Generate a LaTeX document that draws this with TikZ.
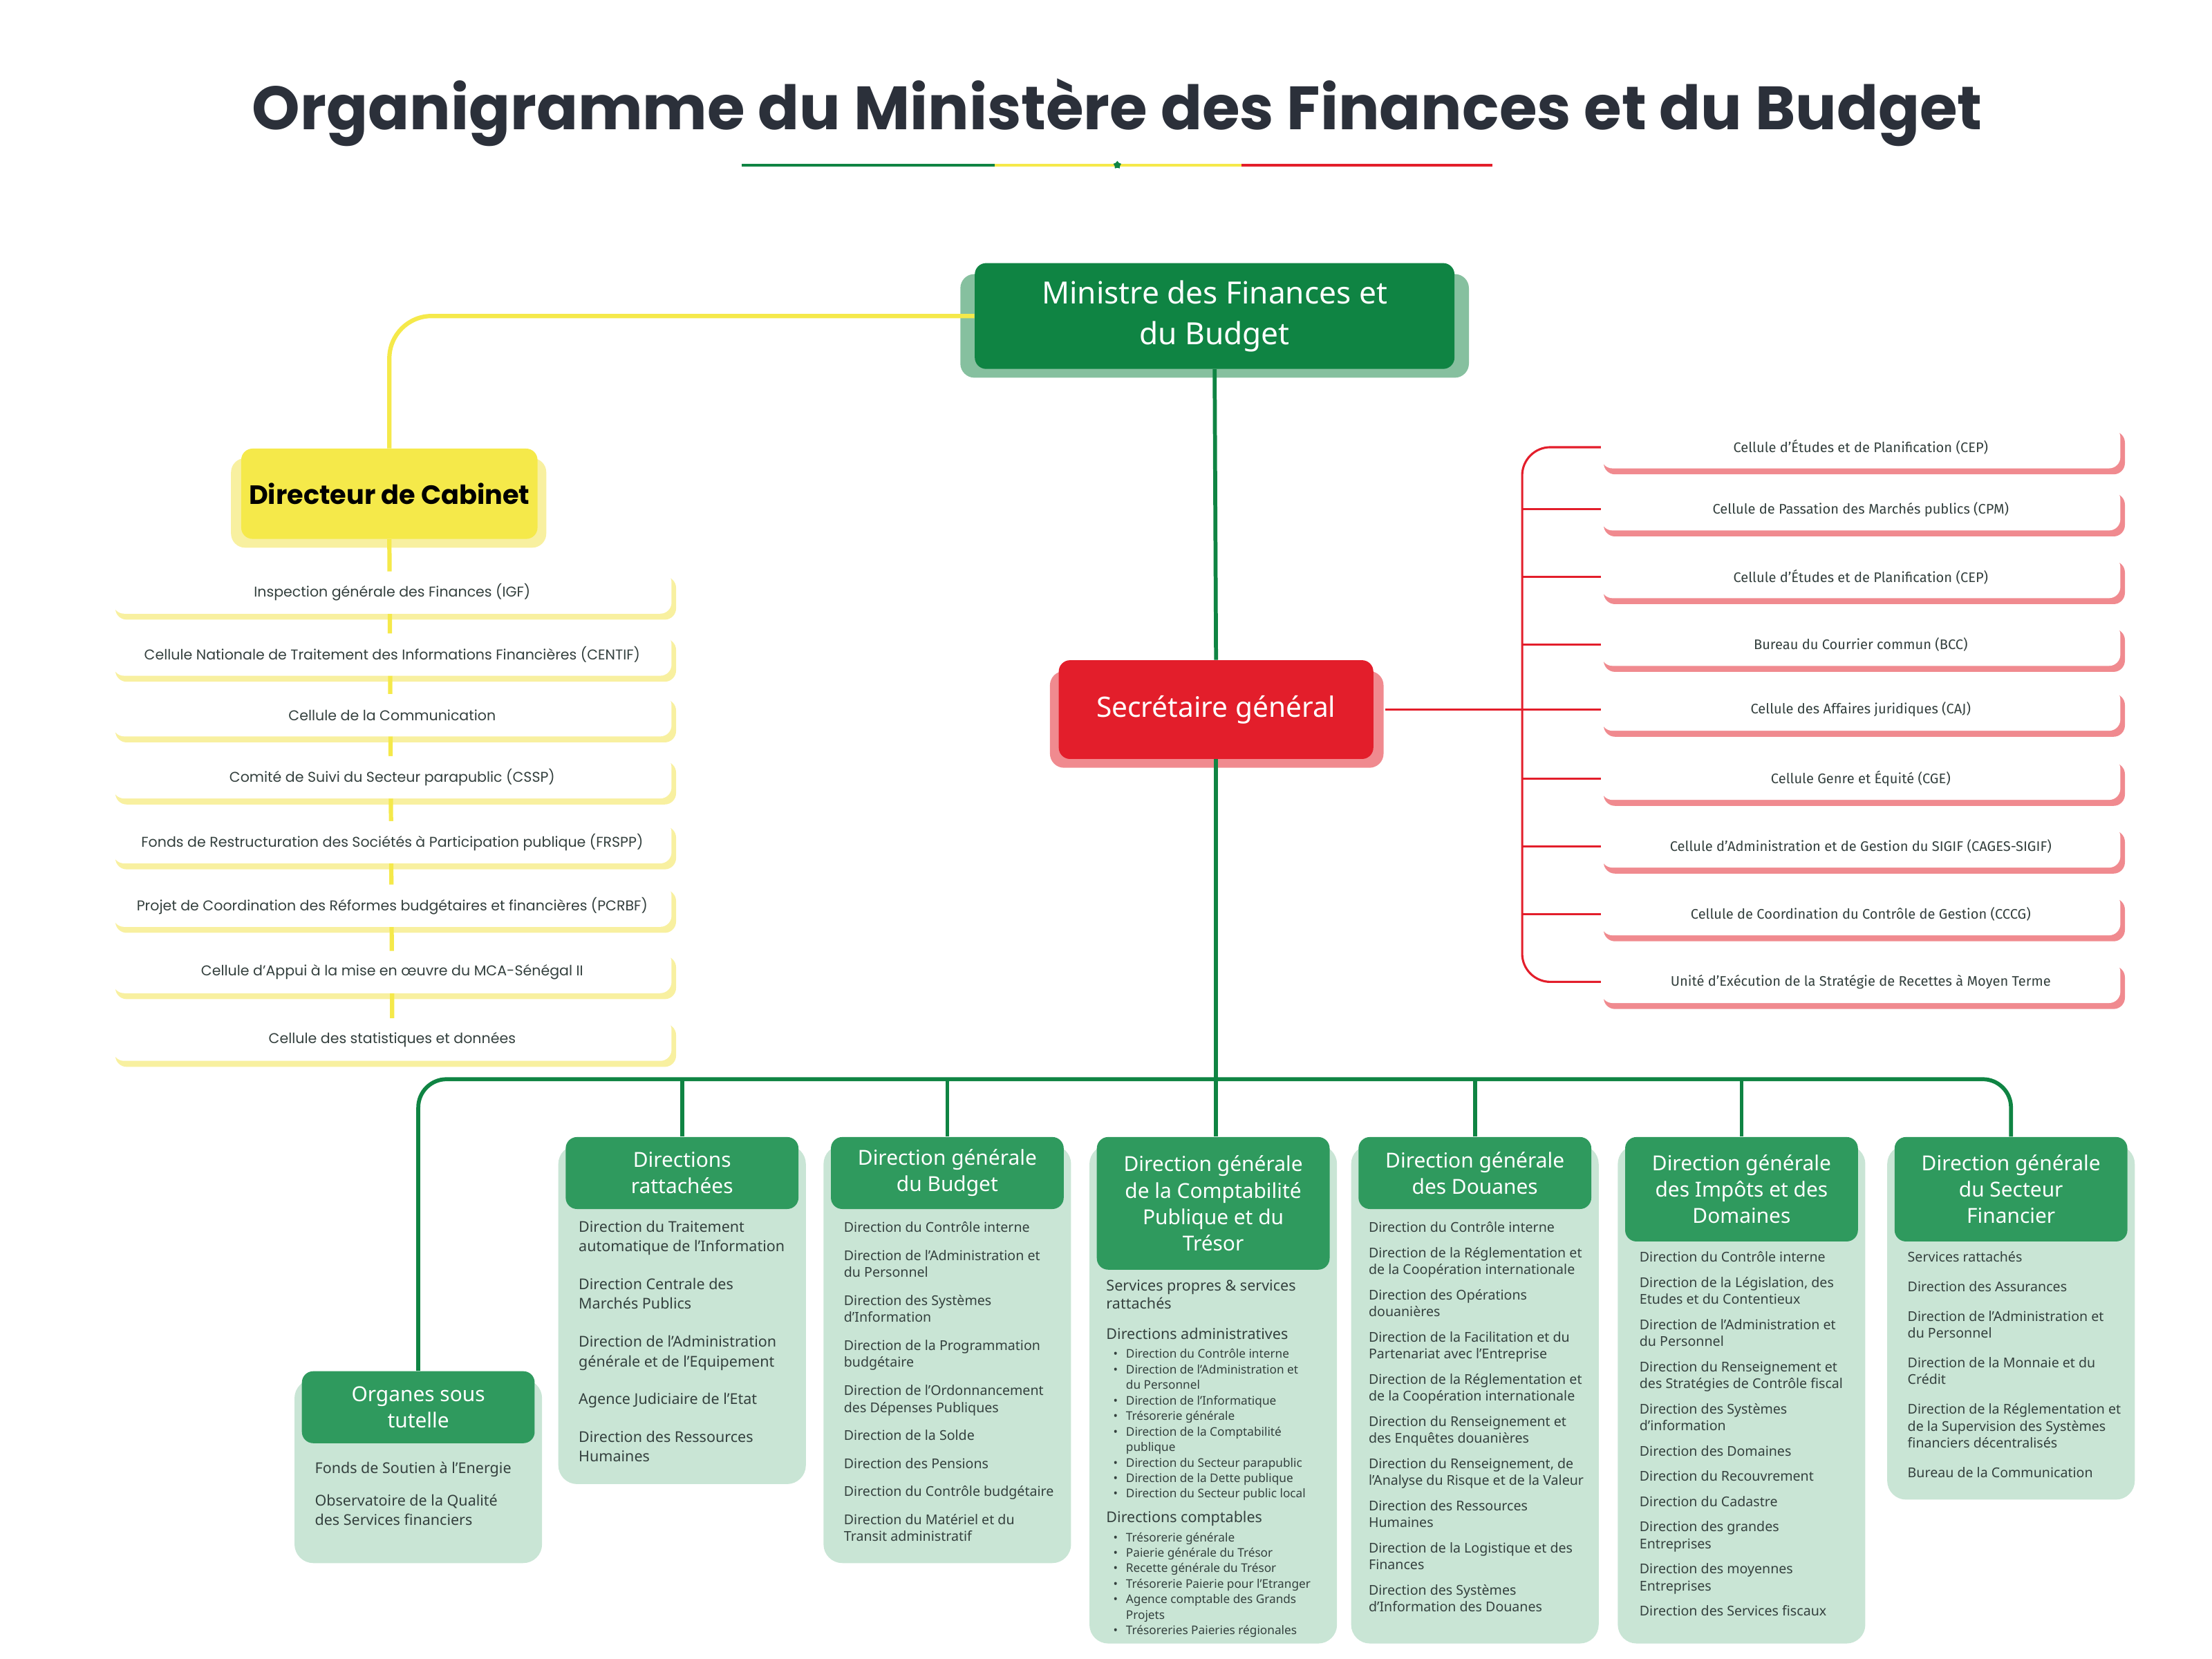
\documentclass[tikz,border=0pt]{standalone}
\usepackage{fontspec}
\setmainfont{Noto Sans}
\newfontfamily\popfont{Poppins}
\newfontfamily\firafont{Fira Sans}
\usetikzlibrary{positioning,backgrounds,shapes.geometric}

\definecolor{vertf}{HTML}{0F8443}
\definecolor{vertmid}{HTML}{2F9A5E}
\definecolor{vertpale}{HTML}{C9E5D5}
\definecolor{ombrev}{HTML}{86C09F}
\definecolor{jaune}{HTML}{F5E94A}
\definecolor{jauneom}{HTML}{F8F0A0}
\definecolor{rouge}{HTML}{E31E2B}
\definecolor{rougeom}{HTML}{F08A8F}
\definecolor{encre}{HTML}{2B303A}
\definecolor{texte}{HTML}{34403E}

\newcommand\puce{\hspace*{4.2pt}\makebox[7.7pt][l]{\textbullet}}
\newcommand\suite{\hspace*{11.9pt}}

\tikzset{
  boite/.style={rounded corners=0.24cm, inner sep=0pt, align=center},
  entete/.style={boite, fill=vertmid, text=white, minimum width=4.95cm,
     font=\fontsize{12.5}{16}\selectfont},
  cellj/.style={boite, fill=white, minimum width=11.88cm, minimum height=0.9cm,
     text=texte, font=\popfont\fontsize{8.6}{10}\selectfont},
  cellr/.style={boite, fill=white, minimum width=11.04cm, minimum height=0.9cm,
     text=texte, font=\firafont\fontsize{8.4}{10}\selectfont},
  liste/.style={anchor=north west, inner sep=0pt, align=left, text=texte,
     font=\fontsize{8.2}{10.2}\selectfont},
  trait/.style={vertf, line width=2.4pt},
  traitj/.style={jaune, line width=2.6pt},
  traitr/.style={rouge, line width=1.3pt},
}

\begin{document}
\begin{tikzpicture}[x=0.03cm,y=-0.03cm]
\useasboundingbox (0,0) rectangle (1568,1176);

% titre
\node[text=encre, font=\popfont\bfseries\fontsize{37}{40}\selectfont] (titre) at (792,80)
  {Organigramme du Ministère des Finances et du Budget};
\draw[vertf, line width=1.6pt] (526,117) -- (705,117);
\draw[jaune, line width=1.6pt] (705,117) -- (880,117);
\draw[rouge, line width=1.6pt] (880,117) -- (1058,117);
\node[star, star points=5, fill=vertf, minimum size=5pt, inner sep=0pt] (etoile) at (792,117) {};

% ministre, cabinet, SG
\node[boite, fill=vertf, text=white, minimum width=10.2cm, minimum height=2.25cm,
  font=\bfseries\fontsize{18.5}{24.6}\selectfont] (mfb) at (861,224)
  {Ministre des Finances et\\du Budget};
\node[boite, fill=jaune, text=black, minimum width=6.3cm, minimum height=1.92cm,
  font=\popfont\bfseries\fontsize{16}{18}\selectfont] (dc) at (276,350) {Directeur de Cabinet};
\node[boite, fill=rouge, text=white, minimum width=6.69cm, minimum height=2.1cm,
  font=\bfseries\fontsize{17}{20}\selectfont] (sg) at (862,503) {Secrétaire général};

% cellules du cabinet
\foreach \t [count=\i] / \y in {
  {Inspection générale des Finances (IGF)}/420,
  {Cellule Nationale de Traitement des Informations Financières (CENTIF)}/464,
  {Cellule de la Communication}/507,
  {Comité de Suivi du Secteur parapublic (CSSP)}/551,
  {Fonds de Restructuration des Sociétés à Participation publique (FRSPP)}/597,
  {Projet de Coordination des Réformes budgétaires et financières (PCRBF)}/642,
  {Cellule d’Appui à la mise en œuvre du MCA-Sénégal II}/689,
  {Cellule des statistiques et données}/737}
  \node[cellj] (cj\i) at (278,\y) {\t};

% cellules du SG
\foreach \t [count=\i] / \y in {
  {Cellule d’Études et de Planification (CEP)}/317,
  {Cellule de Passation des Marchés publics (CPM)}/361,
  {Cellule d’Études et de Planification (CEP)}/409,
  {Bureau du Courrier commun (BCC)}/457,
  {Cellule des Affaires juridiques (CAJ)}/503,
  {Cellule Genre et Équité (CGE)}/552,
  {Cellule d’Administration et de Gestion du SIGIF (CAGES-SIGIF)}/600,
  {Cellule de Coordination du Contrôle de Gestion (CCCG)}/648,
  {Unité d’Exécution de la Stratégie de Recettes à Moyen Terme}/696}
  \node[cellr] (cr\i) at (1319,\y) {\t};

% directions
\node[entete, minimum height=1.53cm] (org) at (296.5,997.5) {Organes sous\\tutelle};
\node[entete, minimum height=1.53cm] (ratt) at (483.5,831.5) {Directions\\rattachées};
\node[entete, minimum height=1.53cm] (bud) at (671.5,831.5) {Direction générale\\du Budget};
\node[entete, minimum height=2.82cm] (cpt) at (860,853) {Direction générale\\de la Comptabilité\\Publique et du\\Trésor};
\node[entete, minimum height=1.53cm] (dou) at (1045.5,831.5) {Direction générale\\des Douanes};
\node[entete, minimum height=2.22cm] (imp) at (1234.5,843) {Direction générale\\des Impôts et des\\Domaines};
\node[entete, minimum height=2.22cm] (sf) at (1425.5,843) {Direction générale\\du Secteur\\Financier};

\node[liste, font=\fontsize{9}{11.9}\selectfont] (lorg) at (223,1036)
  {Fonds de Soutien à l’Energie\\[7.7pt]Observatoire de la Qualité\\des Services financiers};
\node[liste, font=\fontsize{9}{11.9}\selectfont] (lratt) at (410,865)
  {Direction du Traitement\\automatique de l’Information\\[11pt]
   Direction Centrale des\\Marchés Publics\\[11pt]
   Direction de l’Administration\\générale et de l’Equipement\\[11pt]
   Agence Judiciaire de l’Etat\\[11pt]
   Direction des Ressources\\Humaines};
\node[liste] (lbud) at (598,866)
  {Direction du Contrôle interne\\[6.8pt]
   Direction de l’Administration et\\du Personnel\\[6.8pt]
   Direction des Systèmes\\d’Information\\[6.8pt]
   Direction de la Programmation\\budgétaire\\[6.8pt]
   Direction de l’Ordonnancement\\des Dépenses Publiques\\[6.8pt]
   Direction de la Solde\\[6.8pt]
   Direction des Pensions\\[6.8pt]
   Direction du Contrôle budgétaire\\[6.8pt]
   Direction du Matériel et du\\Transit administratif};
\node[liste, font=\fontsize{9}{11}\selectfont] (lcpt1) at (784,907)
  {Services propres \& services\\rattachés};
\node[liste, font=\fontsize{9}{11}\selectfont] (lcpt2) at (784,941) {Directions administratives};
\node[liste, font=\fontsize{7.2}{9.4}\selectfont] (lcpt3) at (784,956)
  {\puce Direction du Contrôle interne\\
   \puce Direction de l'Administration et\\\suite du Personnel\\
   \puce Direction de l'Informatique\\
   \puce Trésorerie générale\\
   \puce Direction de la Comptabilité\\\suite publique\\
   \puce Direction du Secteur parapublic\\
   \puce Direction de la Dette publique\\
   \puce Direction du Secteur public local};
\node[liste, font=\fontsize{9}{11}\selectfont] (lcpt4) at (784,1071) {Directions comptables};
\node[liste, font=\fontsize{7.2}{9.4}\selectfont] (lcpt5) at (784,1086)
  {\puce Trésorerie générale\\
   \puce Paierie générale du Trésor\\
   \puce Recette générale du Trésor\\
   \puce Trésorerie Paierie pour l'Etranger\\
   \puce Agence comptable des Grands\\\suite Projets\\
   \puce Trésoreries Paieries régionales};
\node[liste] (ldou) at (970,866)
  {Direction du Contrôle interne\\[5.1pt]
   Direction de la Réglementation et\\de la Coopération internationale\\[5.1pt]
   Direction des Opérations\\douanières\\[5.1pt]
   Direction de la Facilitation et du\\Partenariat avec l’Entreprise\\[5.1pt]
   Direction de la Réglementation et\\de la Coopération internationale\\[5.1pt]
   Direction du Renseignement et\\des Enquêtes douanières\\[5.1pt]
   Direction du Renseignement, de\\l’Analyse du Risque et de la Valeur\\[5.1pt]
   Direction des Ressources\\Humaines\\[5.1pt]
   Direction de la Logistique et des\\Finances\\[5.1pt]
   Direction des Systèmes\\d’Information des Douanes};
\node[liste] (limp) at (1162,887)
  {Direction du Contrôle interne\\[5.1pt]
   Direction de la Législation, des\\Etudes et du Contentieux\\[5.1pt]
   Direction de l’Administration et\\du Personnel\\[5.1pt]
   Direction du Renseignement et\\des Stratégies de Contrôle fiscal\\[5.1pt]
   Direction des Systèmes\\d’information\\[5.1pt]
   Direction des Domaines\\[5.1pt]
   Direction du Recouvrement\\[5.1pt]
   Direction du Cadastre\\[5.1pt]
   Direction des grandes\\Entreprises\\[5.1pt]
   Direction des moyennes\\Entreprises\\[5.1pt]
   Direction des Services fiscaux};
\node[liste] (lsf) at (1352,887)
  {Services rattachés\\[7.7pt]
   Direction des Assurances\\[7.7pt]
   Direction de l’Administration et\\du Personnel\\[7.7pt]
   Direction de la Monnaie et du\\Crédit\\[7.7pt]
   Direction de la Réglementation et\\de la Supervision des Systèmes\\financiers décentralisés\\[7.7pt]
   Bureau de la Communication};

% ombres et panneaux
\begin{scope}[on background layer]
  \fill[ombrev, rounded corners=0.3cm] ([shift={(-10,8)}]mfb.north west) rectangle ([shift={(10,6)}]mfb.south east);
  \fill[jauneom, rounded corners=0.3cm] ([shift={(-7,7)}]dc.north west) rectangle ([shift={(6,6)}]dc.south east);
  \fill[rougeom, rounded corners=0.3cm] ([shift={(-6,8)}]sg.north west) rectangle ([shift={(7,6)}]sg.south east);
  \foreach \i in {1,...,8}
    \fill[jauneom, rounded corners=0.24cm] ([shift={(2,4)}]cj\i.north west) rectangle ([shift={(3,4)}]cj\i.south east);
  \foreach \i in {1,...,9}
    \fill[rougeom, rounded corners=0.24cm] ([shift={(2,4)}]cr\i.north west) rectangle ([shift={(3,4)}]cr\i.south east);
  \foreach \n/\b in {org/1108,ratt/1052,bud/1108,cpt/1165,dou/1165,imp/1165,sf/1063}
    \fill[vertpale, rounded corners=0.4cm] ([shift={(-5,6)}]\n.north west) rectangle ([xshift=5*0.03cm]\n.east |- 0,\b);
\end{scope}

% liaisons
\begin{scope}[on background layer]
  \draw[traitj, rounded corners=0.9cm] (mfb.west) -| (dc.north);
  \draw[traitj] (dc.south) -- (cj8.north);
  \draw[trait] (mfb.south) -- (sg.north);
  \coordinate (busg) at (862,765);
  \draw[trait] (sg.south) -- (busg);
  \draw[trait, rounded corners=0.6cm] (org.north) |- (busg) -| (sf.north);
  \foreach \n in {ratt,bud,dou,imp}
    \draw[trait] (\n.north) -- (\n.north |- busg);
  \draw[trait] (cpt.north -| busg) -- (busg);
  \coordinate (busr) at (1079,0);
  \draw[traitr, rounded corners=0.6cm] (cr1.west) -| (busr |- cr5.west) |- (cr9.west);
  \foreach \i in {2,...,8}
    \draw[traitr] (cr\i.west) -- (cr\i.west -| busr);
  \draw[traitr] ([xshift=7]sg.east) -- (cr5.west);
\end{scope}

\end{tikzpicture}
\end{document}
